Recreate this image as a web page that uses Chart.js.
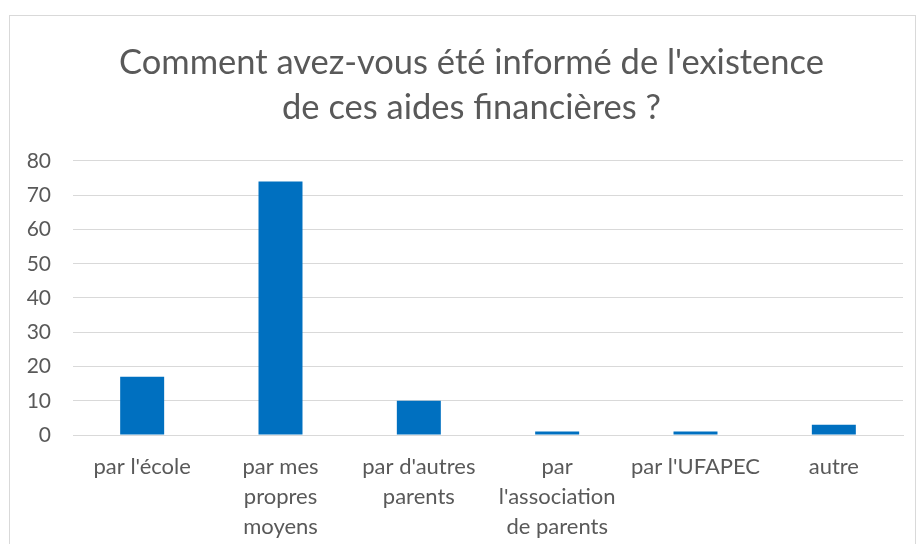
<!DOCTYPE html>
<html>
<head>
<meta charset="utf-8">
<script src="https://cdn.jsdelivr.net/npm/chart.js@4/dist/chart.umd.min.js"></script>
<style>
  html, body { margin: 0; padding: 0; background: #ffffff; }
  #wrap { position: relative; width: 921px; height: 544px; overflow: hidden; background: #fff; }
  #frame { position: absolute; left: 9px; top: 15px; width: 907px; height: 560px; border: 1px solid #d9d9d9; box-sizing: border-box; }
  canvas { position: absolute; left: 0; top: 0; }
</style>
</head>
<body>
<div id="wrap">
  <div id="frame"></div>
  <canvas id="c" width="921" height="544"></canvas>
</div>
<script>
const titleLines = ["Comment avez-vous été informé de l'existence", "de ces aides financières ?"];
const categories = [
  ["par l'école"],
  ["par mes", "propres", "moyens"],
  ["par d'autres", "parents"],
  ["par", "l'association", "de parents"],
  ["par l'UFAPEC"],
  ["autre"]
];
const values = [17, 74, 10, 1, 1, 3];
const yTicks = [0, 10, 20, 30, 40, 50, 60, 70, 80];

const FONT = "Lato, 'Open Sans', sans-serif";
const GREY = '#595959';

const shiftTitle = {
  id: 'shiftTitle',
  afterLayout(chart) {
    const t = chart.titleBlock;
    if (t) { t.left += 20; t.right += 20; }
  }
};

new Chart(document.getElementById('c'), {
  type: 'bar',
  data: {
    labels: categories,
    datasets: [{
      data: values,
      backgroundColor: '#0070C0',
      borderWidth: 0,
      barPercentage: 0.318,
      categoryPercentage: 1.0
    }]
  },
  plugins: [shiftTitle],
  options: {
    responsive: false,
    animation: false,
    devicePixelRatio: 1,
    layout: { padding: { left: 0, right: 18, top: 0, bottom: 0 } },
    plugins: {
      legend: { display: false },
      tooltip: { enabled: false },
      title: {
        display: true,
        text: titleLines,
        color: GREY,
        font: { family: FONT, size: 34.5, weight: 'normal', lineHeight: 1.304 },
        padding: { top: 40, bottom: 31 }
      }
    },
    scales: {
      x: {
        grid: { display: false, drawTicks: false },
        border: { display: true, color: '#d9d9d9', width: 1 },
        ticks: {
          color: GREY,
          font: { family: FONT, size: 22, lineHeight: 1.364 },
          padding: 17,
          maxRotation: 0,
          minRotation: 0,
          autoSkip: false
        },
        afterFit: (s) => { s.height = 109; }
      },
      y: {
        min: 0,
        max: 80,
        afterBuildTicks: (s) => { s.ticks = yTicks.map(v => ({ value: v })); },
        grid: { color: '#d9d9d9', lineWidth: 1, drawTicks: false },
        border: { display: false },
        ticks: {
          color: GREY,
          font: { family: FONT, size: 21 },
          padding: 22
        },
        afterFit: (s) => { s.width = 73; }
      }
    }
  }
});
</script>
</body>
</html>
